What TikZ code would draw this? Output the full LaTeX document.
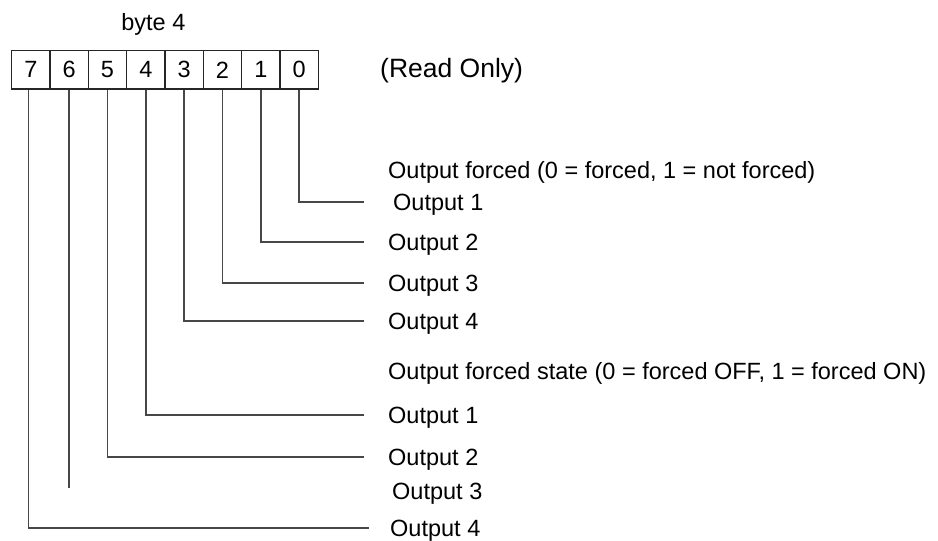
\documentclass[tikz,border=0pt]{standalone}
\usepackage{fontspec}
\setmainfont{Liberation Sans}
\begin{document}
\begin{tikzpicture}[x=1pt,y=-1pt,
  cell/.style={draw=black!85,line width=1.2pt,minimum width=38.33pt,minimum height=38.33pt,inner sep=0pt,font=\fontsize{23.5}{28}\selectfont},
  lbl/.style={anchor=base west,inner sep=0pt,font=\fontsize{23.5}{28}\selectfont},
  wire/.style={draw=black!72,line width=1.7pt}]
\useasboundingbox (0,0) rectangle (938,541);
% cells (bit 7 .. bit 0)
\node[cell] (c7) at (30.85,69.85) {7};
\node[cell] (c6) at (69.18,69.85) {6};
\node[cell] (c5) at (107.51,69.85) {5};
\node[cell] (c4) at (145.84,69.85) {4};
\node[cell] (c3) at (184.17,69.85) {3};
\node[cell] (c2) at (222.5,69.85) {2};
\node[cell] (c1) at (260.83,69.85) {1};
\node[cell] (c0) at (299.16,69.85) {0};
% texts
\node[lbl,anchor=base] (byte) at (153.4,30) {byte 4};
\node[lbl,font=\fontsize{26.5}{31}\selectfont] (ro) at (380,77) {(Read Only)};
\node[lbl] (h1) at (388,178.4) {Output forced (0 = forced, 1 = not forced)};
\node[lbl] (a1) at (393,210) {Output 1};
\node[lbl] (a2) at (388,250.7) {Output 2};
\node[lbl] (a3) at (388,291) {Output 3};
\node[lbl] (a4) at (388,329.4) {Output 4};
\node[lbl] (h2) at (388,379) {Output forced state (0 = forced OFF, 1 = forced ON)};
\node[lbl] (b1) at (388,423.4) {Output 1};
\node[lbl] (b2) at (388,465.7) {Output 2};
\node[lbl] (b3) at (392,499) {Output 3};
\node[lbl] (b4) at (390,536) {Output 4};
% connector ends
\coordinate (e0) at (364,201.7);
\coordinate (e1) at (364,242.3);
\coordinate (e2) at (364,282.7);
\coordinate (e3) at (364,321);
\coordinate (e4) at (364,415);
\coordinate (e5) at (364,457.3);
\coordinate (e6) at (69.18,487.7);
\coordinate (e7) at (369.3,527.7);
\coordinate (s7) at ([xshift=-2.5pt]c7.south);
% connectors
\draw[wire] (c0.south) |- (e0);
\draw[wire] (c1.south) |- (e1);
\draw[wire] (c2.south) |- (e2);
\draw[wire] (c3.south) |- (e3);
\draw[wire] (c4.south) |- (e4);
\draw[wire] (c5.south) |- (e5);
\draw[wire] (c6.south) -- (e6);
\draw[wire] (s7) |- (e7);
\end{tikzpicture}
\end{document}
